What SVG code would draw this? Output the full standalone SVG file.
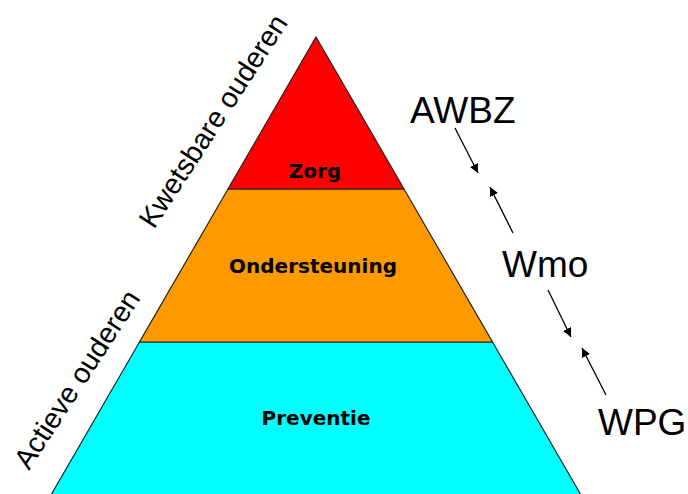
<svg xmlns="http://www.w3.org/2000/svg" width="688" height="494" viewBox="0 0 688 494">
<defs>
<style>
.band{stroke:#222;stroke-width:1.2;stroke-linejoin:miter}
.lbl{font-family:"DejaVu Sans",Verdana,sans-serif;font-weight:bold;font-size:20px;fill:#000;text-anchor:middle}
.law{font-family:"Liberation Sans",Arial,sans-serif;font-size:37px;fill:#000}
.side{font-family:"Liberation Sans",Arial,sans-serif;font-size:28.5px;fill:#000}
.arr{stroke:#000;stroke-width:1.3;fill:none;marker-end:url(#ah)}
</style>
<marker id="ah" viewBox="0 0 10 10" refX="10" refY="5" markerWidth="9" markerHeight="9" markerUnits="userSpaceOnUse" orient="auto">
<path d="M0,0 L10,5 L0,10 z" fill="#000"/>
</marker>
</defs>
<rect width="688" height="494" fill="#fff"/>
<g id="preventie">
<polygon class="band" points="139.5,342 492.5,342 581,495 51,495" fill="#00FFFF"/>
<text class="lbl" x="316" y="425">Preventie</text>
</g>
<g id="ondersteuning">
<polygon class="band" points="228,189 404,189 492.5,342 139.5,342" fill="#FF9900"/>
<text class="lbl" x="313" y="273">Ondersteuning</text>
</g>
<g id="zorg">
<polygon class="band" points="316,37 404,189 228,189" fill="#FF0000"/>
<text class="lbl" x="315" y="178">Zorg</text>
</g>
<g id="awbz"><text class="law" x="410" y="123">AWBZ</text></g>
<g id="wmo"><text class="law" x="502" y="277">Wmo</text></g>
<g id="wpg"><text class="law" x="598" y="435">WPG</text></g>
<g id="kwetsbare"><text class="side" transform="translate(154,230) rotate(-57)">Kwetsbare ouderen</text></g>
<g id="actieve"><text class="side" transform="translate(29,471) rotate(-57)">Actieve ouderen</text></g>
<g id="connectors">
<line class="arr" x1="455" y1="128" x2="478" y2="173"/>
<line class="arr" x1="513" y1="233" x2="490" y2="187"/>
<line class="arr" x1="548" y1="290" x2="571" y2="337"/>
<line class="arr" x1="606" y1="395" x2="582" y2="348"/>
</g>
</svg>
